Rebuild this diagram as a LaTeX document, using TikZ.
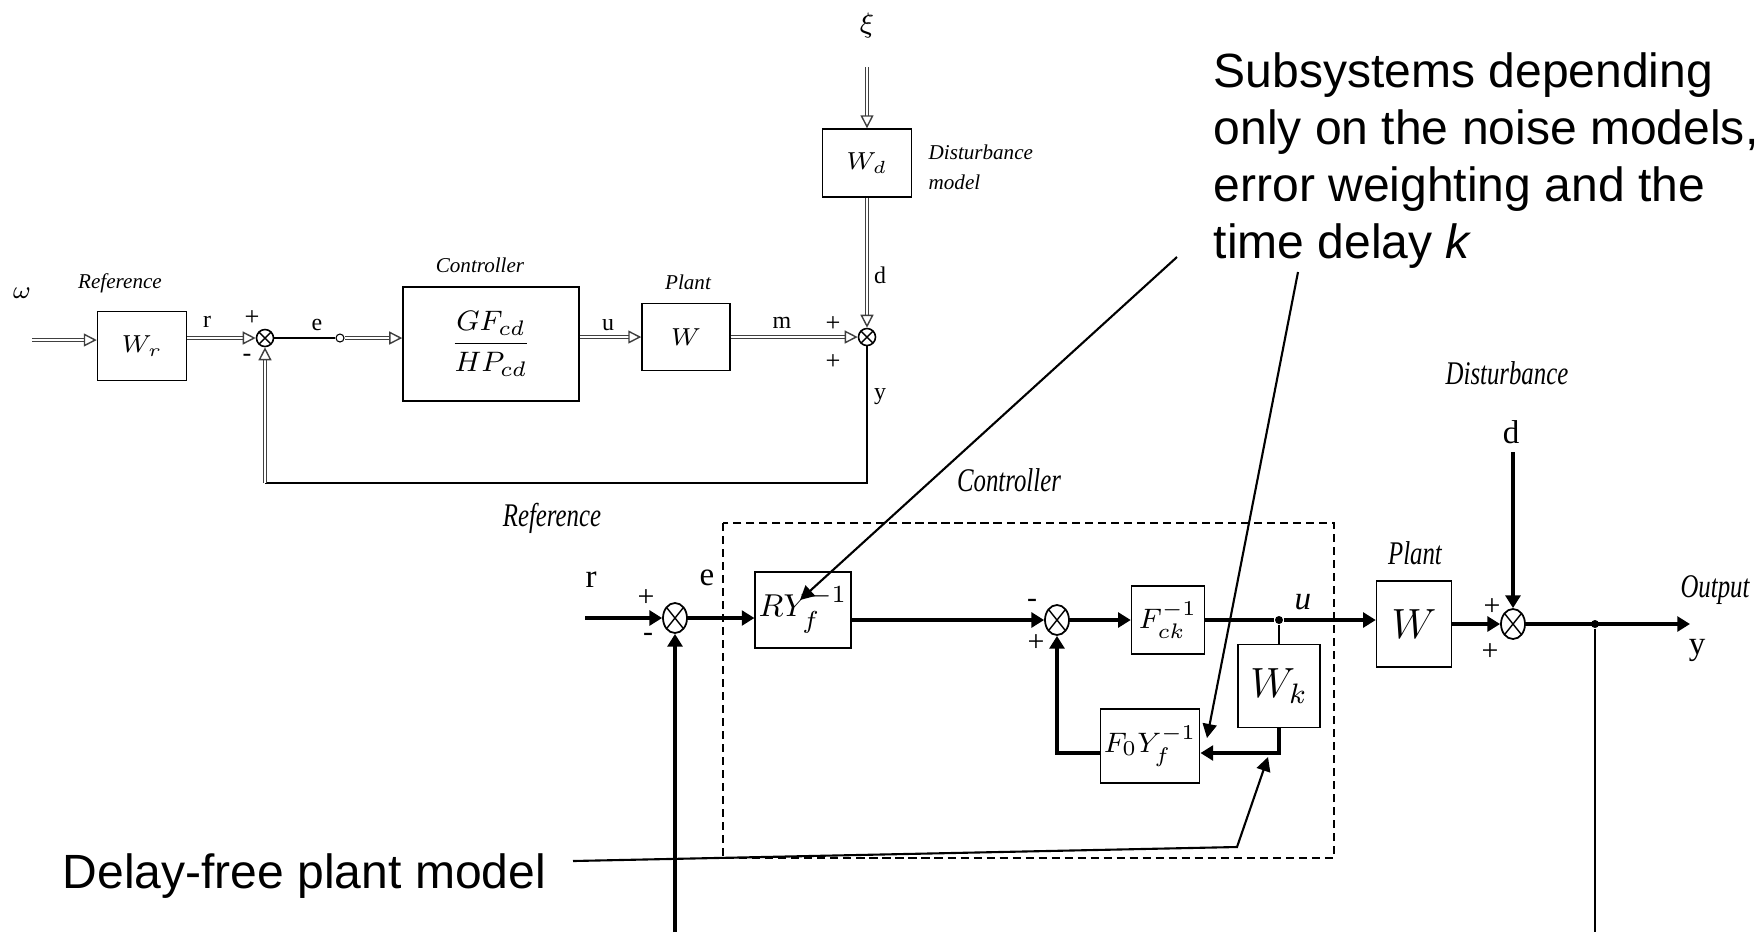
\documentclass[tikz,border=0pt]{standalone}
\usepackage{amsmath}
\usepackage{graphicx}
\usepackage{fontspec}
\setmainfont{Liberation Serif}
\newfontfamily\notefont{Liberation Sans}
\usetikzlibrary{arrows.meta,shapes.geometric}
\newcommand{\squeeze}[1]{\scalebox{0.75}[1]{#1}}

\begin{document}
\begin{tikzpicture}[x=0.01cm,y=-0.01cm,
  blk/.style={draw,line width=0.4pt,inner sep=1pt},
  crossed/.style={path picture={\draw[line width=0.4pt]
      (path picture bounding box.north west)--(path picture bounding box.south east)
      (path picture bounding box.north east)--(path picture bounding box.south west);}},
  sumc/.style={circle,draw,line width=0.45pt,minimum size=0.17cm,inner sep=0pt,crossed},
  sume/.style={ellipse,draw,line width=0.5pt,minimum width=0.24cm,minimum height=0.30cm,inner sep=0pt,crossed},
  dbl/.style={draw=black!75,line width=0.3pt,double=white,double distance=0.4pt},
  oarr/.style={-{Triangle[open,length=3.7pt,width=3.7pt,line width=0.4pt]}},
  sig/.style={line width=1pt,-{Triangle[length=3.6pt,width=4.2pt]}},
  ann/.style={line width=0.6pt,-{Triangle[length=4pt,width=4pt]}},
  lblA/.style={font=\fontsize{6.8}{8}\selectfont,inner sep=0pt},
  capA/.style={font=\fontsize{6}{7}\selectfont\itshape,inner sep=0pt},
  sgnA/.style={font=\fontsize{7.5}{8}\selectfont,inner sep=0pt},
  lblB/.style={font=\fontsize{9.4}{11}\selectfont,inner sep=0pt},
  capB/.style={font=\fontsize{9.4}{11}\selectfont\itshape,inner sep=0pt},
  sgnB/.style={font=\fontsize{8.5}{10}\selectfont,inner sep=0pt},
  note/.style={font=\notefont\fontsize{13.66}{16.2}\selectfont,inner sep=0pt,align=left}
]
\useasboundingbox (0,0) rectangle (1763,932);

% first loop
\node[lblA,font=\fontsize{7}{8}\selectfont] (omega) at (22,293) {$\omega$};
\node[capA] (refA)  at (120,283) {Reference};
\coordinate (win) at (32,340);
\node[blk,minimum width=0.89cm,minimum height=0.69cm,font=\fontsize{7}{8}\selectfont] (Wr) at (142,346) {$W_r$};
\node[sumc] (S1) at (265,338) {};
\node[circle,draw,line width=0.3pt,minimum size=0.08cm,inner sep=0pt] (tap) at (340,338) {};
\node[blk,minimum width=1.76cm,minimum height=1.14cm,font=\fontsize{8.5}{10}\selectfont] (Ctrl) at (491,344) {$\dfrac{GF_{cd}}{HP_{cd}}$};
\node[capA] (ctrlA) at (480,265) {Controller};
\node[blk,minimum width=0.88cm,minimum height=0.67cm,font=\fontsize{7}{8}\selectfont] (Pl) at (686,337) {$W$};
\node[capA] (plA)   at (688,282) {Plant};
\node[sumc] (S2) at (867,337) {};
\node[blk,minimum width=0.89cm,minimum height=0.68cm,font=\fontsize{7}{8}\selectfont] (Wd) at (867,163) {$W_d$};
\node[lblA,font=\fontsize{8}{9}\selectfont] (xi) at (867,25) {$\xi$};
\coordinate (xin) at (867,67);
\node[capA,anchor=west] (distA) at (928,152) {Disturbance};
\node[capA,anchor=west] (modA)  at (928,182) {model};
\coordinate (fbR) at (867,483);
\coordinate (fbL) at (265,483);

\draw[dbl,oarr] (win) -- (win -| Wr.west);
\draw[dbl,oarr] (Wr.east |- S1) -- (S1);
\draw[line width=0.4pt] (S1) -- (tap);
\draw[dbl,oarr] (tap) -- (tap -| Ctrl.west);
\draw[dbl,oarr] (Ctrl.east |- Pl) -- (Pl);
\draw[dbl,oarr] (Pl) -- (S2);
\draw[dbl,oarr] (xin) -- (Wd);
\draw[dbl,oarr] (Wd) -- (S2);
\draw[line width=0.4pt] (S2) -- (fbR) -- (fbL);
\draw[dbl,oarr] (fbL) -- (S1);

\node[lblA] (rA) at (207,322) {r};
\node[lblA] (eA) at (317,325) {e};
\node[lblA] (uA) at (608,325) {u};
\node[lblA] (mA) at (782,323) {m};
\node[lblA] (dA) at (880,275) {d};
\node[lblA] (yA) at (880,397) {y};
\node[sgnA] (p1) at (252,318) {+};
\node[sgnA] (n1) at (247,358) {-};
\node[sgnA] (p2) at (833,324) {+};
\node[sgnA] (p3) at (833,362) {+};

% second loop
\node[lblB] (rB) at (591,580) {r};
\node[lblB] (eB) at (707,578) {e};
\coordinate (rin) at (585,618);
\node[sume] (S3) at (675,618) {};
\node[blk,minimum width=0.87cm,minimum height=0.76cm,font=\fontsize{9.4}{11}\selectfont] (RY) at (803,610) {$RY_f^{-1}$};
\node[sume] (S4) at (1057,620) {};
\node[blk,minimum width=0.73cm,minimum height=0.68cm,font=\fontsize{8.5}{10}\selectfont] (Fck) at (1168,620) {$F_{ck}^{-1}$};
\node[circle,fill,inner sep=0pt,minimum size=0.08cm] (udot) at (1279,620) {};
\node[lblB,font=\fontsize{9.4}{11}\selectfont\itshape] (uB) at (1303,602) {u};
\node[blk,minimum width=0.82cm,minimum height=0.83cm,font=\fontsize{12}{14}\selectfont] (Wk) at (1279,686) {$W_k$};
\node[blk,minimum width=0.94cm,minimum height=0.74cm,font=\fontsize{8.5}{10}\selectfont] (F0) at (1150,746) {$F_0Y_f^{-1}$};
\coordinate (wkc) at (1279,753);
\coordinate (fbc) at (1057,753);
\node[blk,minimum width=0.75cm,minimum height=0.86cm,font=\fontsize{11.5}{13}\selectfont] (W2) at (1414,624) {$W$};
\node[sume] (S5) at (1513,624) {};
\node[circle,fill,inner sep=0pt,minimum size=0.08cm] (ydot) at (1595,624) {};
\coordinate (yout) at (1690,624);
\coordinate (dtop) at (1513,452);
\coordinate (ybot) at (1595,932);
\coordinate (rbot) at (675,932);

\draw[line width=0.7pt,dash pattern=on 2.3pt off 1.4pt] (723,523) rectangle (1334,858);

\draw[sig] (rin) -- (S3);
\draw[sig] (S3) -- (S3 -| RY.west);
\draw[sig] (RY.east |- S4) -- (S4);
\draw[sig] (S4) -- (Fck);
\draw[line width=1pt] (Fck) -- (udot);
\draw[sig] (udot) -- (udot -| W2.west);
\draw[line width=0.4pt] (udot) -- (Wk);
\draw[sig] (Wk) -- (wkc) -- (wkc -| F0.east);
\draw[sig] (F0.west |- fbc) -- (fbc) -- (S4);
\draw[sig] (W2) -- (S5);
\draw[sig] (dtop) -- (S5);
\draw[sig] (S5) -- (yout);
\draw[line width=0.5pt] (ydot) -- (ybot);
\draw[sig] (rbot) -- (S3);

\node[capB] (refB)  at (552,518)  {\squeeze{Reference}};
\node[capB] (ctrlB) at (1009,480) {\squeeze{Controller}};
\node[capB] (plB)   at (1415,553) {\squeeze{Plant}};
\node[capB] (distB) at (1507,373) {\squeeze{Disturbance}};
\node[capB] (outB)  at (1715,590) {\squeeze{Output}};
\node[lblB] (dB) at (1511,432) {d};
\node[lblB] (yB) at (1697,650) {y};
\node[sgnB] (p4) at (646,598)  {+};
\node[sgnB] (n2) at (648,637)  {-};
\node[sgnB] (n3) at (1032,603) {-};
\node[sgnB] (p5) at (1036,643) {+};
\node[sgnB] (p6) at (1492,607) {+};
\node[sgnB] (p7) at (1490,652) {+};

% notes
\node[note,anchor=north west] (note1) at (1213,52) {Subsystems depending\\only on the noise models,\\error weighting and the\\time delay \textit{k}};
\node[note,anchor=base west] (note2) at (62,888) {Delay-free plant model};
\coordinate (a1s) at (1177,257);
\coordinate (a1e) at (800,600);
\coordinate (a2s) at (1298,272);
\coordinate (a2e) at (1207,738);
\coordinate (a3s) at (573,861);
\coordinate (a3m) at (1237,847);
\coordinate (a3e) at (1268,757);
\draw[ann] (a1s) -- (a1e);
\draw[ann] (a2s) -- (a2e);
\draw[ann] (a3s) -- (a3m) -- (a3e);
\end{tikzpicture}
\end{document}
